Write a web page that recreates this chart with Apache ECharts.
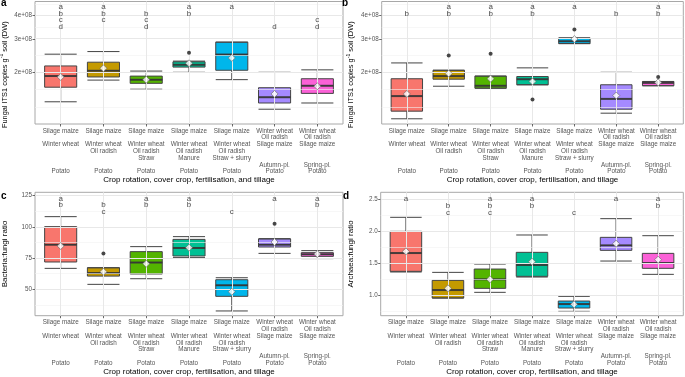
<!DOCTYPE html>
<html>
<head>
<meta charset="utf-8">
<script src="https://cdn.jsdelivr.net/npm/echarts@6/dist/echarts.min.js"></script>
<style>
  html, body { margin: 0; padding: 0; background: #fff; }
  #chart { width: 685px; height: 377px; }
</style>
</head>
<body>
<div id="chart"></div>
<script>
const groupColors = ['#F8766D', '#C49A00', '#53B400', '#00C094', '#00B6EB', '#A58AFF', '#FB61D7'];
const groupLabels = [
    'Silage maize\n\nWinter wheat\n\n\n\nPotato',
    'Silage maize\n\nWinter wheat\nOil radish\n\n\nPotato',
    'Silage maize\n\nWinter wheat\nOil radish\nStraw\n\nPotato',
    'Silage maize\n\nWinter wheat\nOil radish\nManure\n\nPotato',
    'Silage maize\n\nWinter wheat\nOil radish\nStraw + slurry\n\nPotato',
    'Winter wheat\nOil radish\nSilage maize\n\n\nAutumn-pl.\nPotato',
    'Winter wheat\nOil radish\nSilage maize\n\n\nSpring-pl.\nPotato'
];
const xTitle = 'Crop rotation, cover crop, fertilisation, and tillage';

// boxes: [min, Q1, median, Q3, max]
const itsBoxA = [
    [1.40e8, 1.67e8, 1.91e8, 2.16e8, 2.49e8],
    [1.82e8, 1.89e8, 2.04e8, 2.26e8, 2.57e8],
    [1.63e8, 1.75e8, 1.83e8, 1.91e8, 2.03e8],
    [2.00e8, 2.13e8, 2.19e8, 2.27e8, 2.29e8],
    [1.83e8, 2.05e8, 2.48e8, 2.88e8, 2.88e8],
    [1.28e8, 1.38e8, 1.48e8, 1.66e8, 2.00e8],
    [1.38e8, 1.55e8, 1.70e8, 1.85e8, 2.06e8]
];
const itsMeanA = [1.89e8, 2.10e8, 1.83e8, 2.23e8, 2.38e8, 1.54e8, 1.69e8];
const itsOutA = [[3, 2.53e8]];
const itsLetA = ['abcd', 'abc', 'bcd', 'ab', 'a', 'd', 'cd'];

const itsBoxB = [
    [1.14e8, 1.25e8, 1.50e8, 1.85e8, 2.24e8],
    [1.69e8, 1.84e8, 1.91e8, 2.05e8, 2.05e8],
    [1.65e8, 1.65e8, 1.70e8, 1.91e8, 1.91e8],
    [1.72e8, 1.72e8, 1.84e8, 1.90e8, 2.11e8],
    [2.83e8, 2.83e8, 2.91e8, 3.03e8, 3.03e8],
    [1.22e8, 1.28e8, 1.45e8, 1.72e8, 2.00e8],
    [1.70e8, 1.70e8, 1.76e8, 1.79e8, 1.79e8]
];
const itsMeanB = [1.54e8, 1.97e8, 1.85e8, 1.79e8, 2.99e8, 1.51e8, 1.77e8];
const itsOutB = [[1, 2.45e8], [2, 2.50e8], [3, 1.44e8], [4, 3.36e8], [6, 1.89e8]];
const itsLetB = ['b', 'ab', 'ab', 'ab', 'a', 'b', 'ab'];

const bfBox = [
    [66.8, 71.9, 85.8, 100.2, 108.2],
    [54.0, 60.6, 63.0, 67.3, 67.3],
    [58.5, 62.3, 71.4, 80.2, 84.2],
    [75.4, 76.7, 83.2, 90.0, 92.2],
    [32.7, 44.4, 53.2, 57.7, 59.3],
    [78.8, 83.9, 85.8, 90.3, 90.6],
    [74.6, 76.4, 78.0, 79.4, 81.0]
];
const bfMean = [84.7, 64.1, 70.5, 83.4, 48.1, 87.9, 78.3];
const bfOut = [[1, 78.8], [5, 102.6]];
const bfLet = ['ab', 'bc', 'ab', 'ab', 'c', 'a', 'ab'];

const afBox = [
    [1.36, 1.37, 1.656, 1.995, 2.214],
    [0.953, 0.953, 1.078, 1.229, 1.354],
    [1.042, 1.104, 1.245, 1.406, 1.484],
    [1.281, 1.292, 1.469, 1.667, 1.938],
    [0.745, 0.797, 0.859, 0.906, 0.979],
    [1.531, 1.698, 1.776, 1.901, 2.193],
    [1.323, 1.417, 1.500, 1.651, 1.927]
];
const afMean = [1.682, 1.104, 1.245, 1.521, 0.854, 1.802, 1.552];
const afOut = [];
const afLet = ['a', 'bc', 'abc', 'ab', 'c', 'a', 'ab'];

const itsTicks = [2e8, 3e8, 4e8];
const itsMinor = [1.333e8, 1.633e8, 2.449e8, 3.464e8, 4.619e8];
const bfTicks = [50, 75, 100, 125];
const bfMinor = [37.5, 62.5, 87.5, 112.5];
const afTicks = [1.0, 1.5, 2.0, 2.5];
const afMinor = [0.75, 1.25, 1.75, 2.25];

const FONT = '"Liberation Sans", Arial, Helvetica, sans-serif';
const grids = [], xAxes = [], yAxes = [], series = [];
const cats = groupLabels.map((_, i) => i);

function addPanel(p) {
    const k = grids.length;
    const tf = p.log ? Math.log10 : (v => v);
    const boxW = p.width / 7.2 * 0.75;
    grids.push({
        left: p.left, top: p.top, width: p.width, height: p.height,
        show: true, backgroundColor: '#fff', borderColor: '#a8a8a8', borderWidth: 1,
        containLabel: false, outerBoundsMode: 'none'
    });
    xAxes.push({
        gridIndex: k, type: 'value', min: -0.6, max: 6.6,
        splitLine: { show: false },
        axisLine: { show: false, onZero: false },
        axisTick: { show: true, customValues: cats, length: 2.5, lineStyle: { color: '#444', width: 0.8 } },
        axisLabel: {
            customValues: cats, formatter: v => groupLabels[Math.round(v)],
            fontFamily: FONT, fontSize: 6.3, lineHeight: 6.78, color: '#555', margin: 3.5
        },
        name: xTitle, nameLocation: 'middle', nameGap: 52,
        nameTextStyle: { fontFamily: FONT, fontSize: 8, color: '#000' }
    });
    yAxes.push({
        gridIndex: k, type: 'value', min: p.ymin, max: p.ymax,
        splitLine: { show: false },
        axisLine: { show: false, onZero: false },
        axisTick: { show: true, customValues: p.ticks.map(tf), length: 2.5, lineStyle: { color: '#444', width: 0.8 } },
        axisLabel: {
            customValues: p.ticks.map(tf), formatter: p.fmt,
            fontFamily: FONT, fontSize: 6.3, color: '#555', margin: 3
        },
        name: p.title, nameLocation: 'middle', nameRotate: 90, nameGap: p.nameGap,
        nameTextStyle: {
            fontFamily: FONT, fontSize: p.titleSize, color: '#000', lineHeight: 11,
            padding: [0, p.titleShift, 0, 0],
            rich: { sup: { fontFamily: FONT, fontSize: 5, color: '#000', verticalAlign: 'top', lineHeight: 11 } }
        }
    });
    const lines = [];
    p.minor.forEach(v => lines.push({ yAxis: tf(v), lineStyle: { color: '#f2f2f2', width: 0.6, type: 'solid' } }));
    p.ticks.forEach(v => lines.push({ yAxis: tf(v), lineStyle: { color: '#e8e8e8', width: 1, type: 'solid' } }));
    cats.forEach(i => lines.push({ xAxis: i, lineStyle: { color: '#e8e8e8', width: 1, type: 'solid' } }));
    series.push({
        type: 'line', xAxisIndex: k, yAxisIndex: k, data: [], z: 1, silent: true,
        markLine: { silent: true, symbol: ['none', 'none'], label: { show: false }, animation: false, data: lines }
    });
    series.push({
        type: 'boxplot', xAxisIndex: k, yAxisIndex: k, z: 3, boxWidth: [boxW, boxW],
        itemStyle: { borderColor: '#444', borderWidth: 1 },
        data: p.boxes.map((b, i) => ({
            value: [i].concat(b.map(tf)),
            itemStyle: { color: groupColors[i], borderColor: '#444', borderWidth: 1 }
        }))
    });
    series.push({
        type: 'scatter', xAxisIndex: k, yAxisIndex: k, z: 4, silent: true,
        symbol: 'rect', symbolSize: [boxW, 2],
        itemStyle: { color: '#333' },
        data: p.boxes.map((b, i) => [i, tf(b[2])])
    });
    series.push({
        type: 'scatter', xAxisIndex: k, yAxisIndex: k, z: 5, silent: true,
        symbol: 'circle', symbolSize: 4,
        itemStyle: { color: '#1a1a1a' },
        data: p.outliers.map(o => [o[0], tf(o[1])])
    });
    series.push({
        type: 'scatter', xAxisIndex: k, yAxisIndex: k, z: 6, silent: true,
        symbol: 'diamond', symbolSize: [7, 7],
        itemStyle: { color: '#fff', borderColor: '#666', borderWidth: 0.8 },
        data: p.means.map((m, i) => [i, tf(m)])
    });
    series.push({
        type: 'scatter', xAxisIndex: k, yAxisIndex: k, z: 6, silent: true,
        symbolSize: 1, itemStyle: { color: 'rgba(0,0,0,0)' },
        label: {
            show: true, position: 'inside', verticalAlign: 'top', align: 'center',
            fontFamily: FONT, fontSize: 8, lineHeight: 6.7, color: '#1a1a1a',
            formatter: prm => p.rows.split('').map(r => p.letters[prm.dataIndex].includes(r) ? r : '').join('\n')
        },
        data: p.letters.map((_, i) => [i, tf(p.letterTop)])
    });
}

const itsFmt = v => Math.round(Math.pow(10, v) / 1e8) + 'e+08';
const itsTitle = 'Fungal ITS1 copies g{sup|-1} soil (DW)';

addPanel({
    left: 35, top: 1.5, width: 308, height: 122.5, log: true,
    ymin: 8.0295, ymax: 8.6729, ticks: itsTicks, minor: itsMinor, fmt: itsFmt,
    title: itsTitle, nameGap: 25, titleSize: 7.4, titleShift: 24,
    boxes: itsBoxA, means: itsMeanA, outliers: itsOutA, letters: itsLetA, rows: 'abcd', letterTop: 4.605e8
});
addPanel({
    left: 381.7, top: 1.5, width: 301.6, height: 122.5, log: true,
    ymin: 8.0295, ymax: 8.6729, ticks: itsTicks, minor: itsMinor, fmt: itsFmt,
    title: itsTitle, nameGap: 25, titleSize: 7.4, titleShift: 24,
    boxes: itsBoxB, means: itsMeanB, outliers: itsOutB, letters: itsLetB, rows: 'ab', letterTop: 4.605e8
});
addPanel({
    left: 35, top: 192.3, width: 308, height: 123.4, log: false,
    ymin: 28.9, ymax: 127.7, ticks: bfTicks, minor: bfMinor, fmt: v => String(Math.round(v)),
    title: 'Bacteria:fungi ratio', nameGap: 25, titleSize: 8, titleShift: 0,
    boxes: bfBox, means: bfMean, outliers: bfOut, letters: bfLet, rows: 'abc', letterTop: 125.5
});
addPanel({
    left: 380.7, top: 192.3, width: 302.6, height: 123.4, log: false,
    ymin: 0.677, ymax: 2.605, ticks: afTicks, minor: afMinor, fmt: v => v.toFixed(1),
    title: 'Archaea:fungi ratio', nameGap: 24, titleSize: 8, titleShift: 0,
    boxes: afBox, means: afMean, outliers: afOut, letters: afLet, rows: 'abc', letterTop: 2.552
});

const panelTag = (text, x, y) => ({
    type: 'text', left: x, top: y, z: 10,
    style: { text: text, fontFamily: FONT, fontSize: 10, fontWeight: 'bold', fill: '#000' }
});

const chart = echarts.init(document.getElementById('chart'));
const option = {
    animation: false,
    backgroundColor: '#fff',
    grid: grids,
    xAxis: xAxes,
    yAxis: yAxes,
    series: series,
    graphic: [panelTag('a', 1, -2), panelTag('b', 342, -2), panelTag('c', 1, 191), panelTag('d', 343, 191)]
};
option && chart.setOption(option);
window.addEventListener('resize', chart.resize);
</script>
</body>
</html>
